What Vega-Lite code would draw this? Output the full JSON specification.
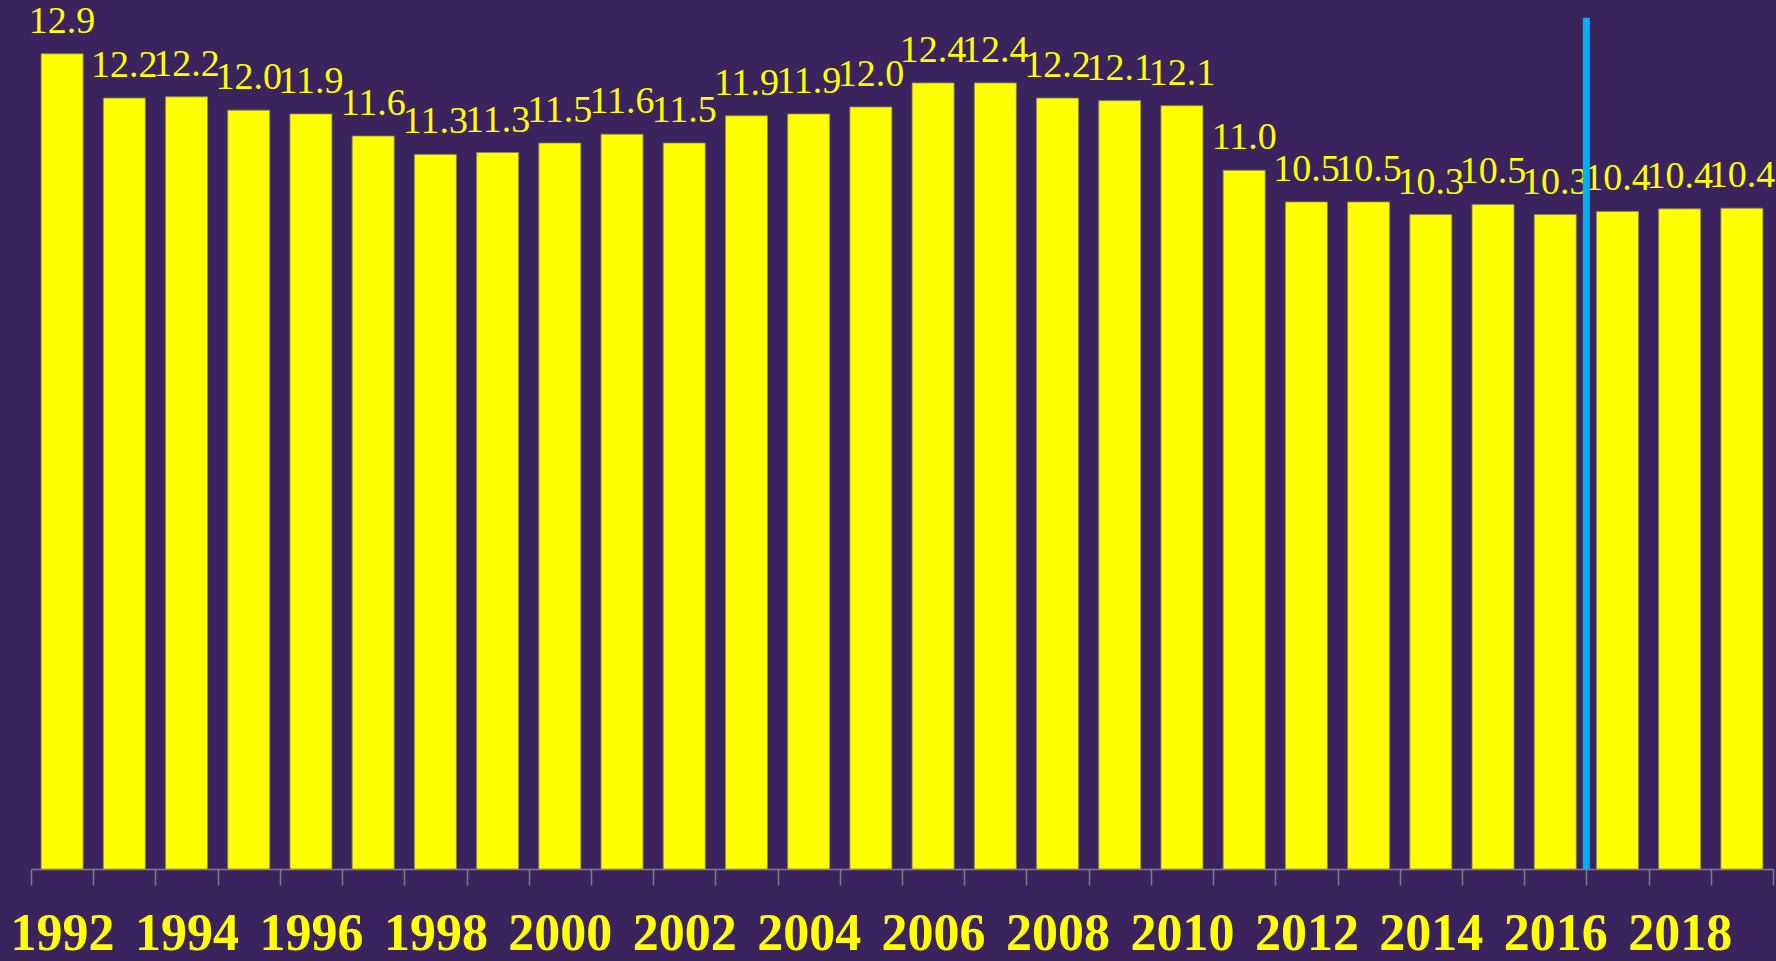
{
  "$schema": "https://vega.github.io/schema/vega-lite/v6.json",
  "width": 1742,
  "height": 869,
  "autosize": {"type": "none"},
  "padding": {"left": 31, "top": 0, "right": 3, "bottom": 92},
  "background": "#3b245e",
  "config": {"view": {"stroke": null}},
  "data": {
    "values": [
      {"year": 1992, "value": 12.88},
      {"year": 1993, "value": 12.18},
      {"year": 1994, "value": 12.2},
      {"year": 1995, "value": 11.99},
      {"year": 1996, "value": 11.93},
      {"year": 1997, "value": 11.58},
      {"year": 1998, "value": 11.29},
      {"year": 1999, "value": 11.32},
      {"year": 2000, "value": 11.47},
      {"year": 2001, "value": 11.61},
      {"year": 2002, "value": 11.47},
      {"year": 2003, "value": 11.9},
      {"year": 2004, "value": 11.93},
      {"year": 2005, "value": 12.04},
      {"year": 2006, "value": 12.42},
      {"year": 2007, "value": 12.42},
      {"year": 2008, "value": 12.18},
      {"year": 2009, "value": 12.14},
      {"year": 2010, "value": 12.06},
      {"year": 2011, "value": 11.04},
      {"year": 2012, "value": 10.54},
      {"year": 2013, "value": 10.54},
      {"year": 2014, "value": 10.34},
      {"year": 2015, "value": 10.5},
      {"year": 2016, "value": 10.34},
      {"year": 2017, "value": 10.39},
      {"year": 2018, "value": 10.43},
      {"year": 2019, "value": 10.44}
    ]
  },
  "encoding": {
    "x": {
      "field": "year",
      "type": "ordinal",
      "scale": {"paddingInner": 0, "paddingOuter": 0},
      "axis": {
        "title": null,
        "tickBand": "extent",
        "labelExpr": "datum.value % 2 == 0 ? datum.label : ''",
        "labelAngle": 0,
        "labelFont": "Liberation Serif",
        "labelFontSize": 52,
        "labelFontWeight": "bold",
        "labelColor": "#ffff00",
        "labelBaseline": "alphabetic",
        "labelPadding": 64,
        "labelOverlap": false,
        "tickSize": 16,
        "tickColor": "#7f7f7f",
        "tickWidth": 1.5,
        "domainColor": "#7f7f7f",
        "domainWidth": 1.5
      }
    }
  },
  "layer": [
    {
      "mark": {"type": "bar", "color": "#ffff00", "stroke": "#8a8660", "strokeWidth": 0.8, "width": {"band": 0.675}},
      "encoding": {
        "y": {"field": "value", "type": "quantitative", "scale": {"domain": [0, 13.73], "nice": false, "zero": true}, "axis": null}
      }
    },
    {
      "mark": {"type": "text", "font": "Liberation Serif", "fontSize": 38, "color": "#ffff00", "dy": -21, "baseline": "alphabetic"},
      "encoding": {
        "y": {"field": "value", "type": "quantitative", "axis": null},
        "text": {"field": "value", "type": "quantitative", "format": ".1f"}
      }
    },
    {
      "data": {"values": [{"year": 2017, "base": 0, "top": 13.45}]},
      "mark": {"type": "rule", "color": "#00b0f0", "strokeWidth": 7},
      "encoding": {
        "x": {"field": "year", "type": "ordinal", "bandPosition": 0},
        "y": {"field": "base", "type": "quantitative", "axis": null},
        "y2": {"field": "top"}
      }
    }
  ]
}
